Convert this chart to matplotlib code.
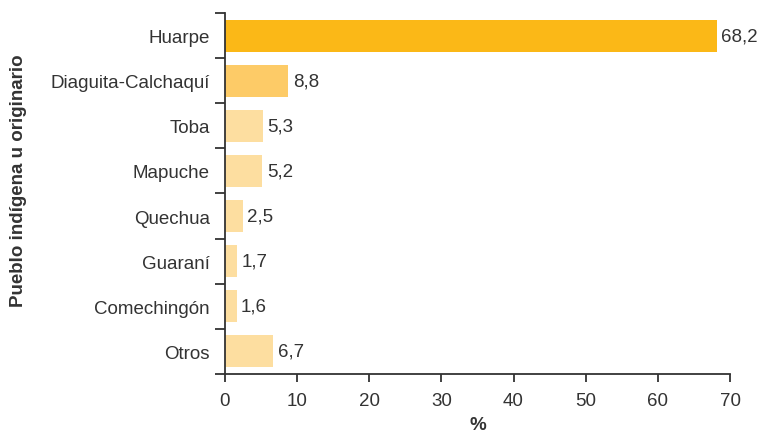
import matplotlib.pyplot as plt
import numpy as np

plt.rcParams['font.family'] = ['Liberation Sans', 'DejaVu Sans']

pueblos = ['Huarpe', 'Diaguita-Calchaquí', 'Toba', 'Mapuche', 'Quechua',
           'Guaraní', 'Comechingón', 'Otros']
valores = [68.2, 8.8, 5.3, 5.2, 2.5, 1.7, 1.6, 6.7]
colores = ['#fbb817', '#fdcb67'] + ['#fddea0'] * 6
xticks = [0, 10, 20, 30, 40, 50, 60, 70]

txt = '#333333'
fs = 13.5

fig = plt.figure(figsize=(7.59, 4.35), dpi=100)
ax = fig.add_axes([0.2964, 0.138, 0.6654, 0.8298])

y = np.arange(len(pueblos))
ax.barh(y, valores, height=0.71, color=colores)
for yi, v in zip(y, valores):
    ax.text(v + 0.6, yi, f'{v:.1f}'.replace('.', ','), va='center', ha='left',
            fontsize=fs, color=txt)

ax.set_xlim(0, 70)
ax.set_ylim(len(pueblos) - 0.5, -0.5)
ax.set_xticks(xticks)
ax.set_xticklabels([str(t) for t in xticks], fontsize=fs, color=txt)
ax.set_yticks(y)
ax.set_yticklabels(pueblos, fontsize=fs, color=txt)
ax.set_yticks(np.arange(-0.5, len(pueblos)), minor=True)
ax.tick_params(axis='y', which='major', length=0, pad=11)
ax.tick_params(axis='y', which='minor', length=7, width=1.3, color=txt)
ax.tick_params(axis='x', length=6, width=1.3, color=txt, pad=7)

for s in ['top', 'right']:
    ax.spines[s].set_visible(False)
for s in ['left', 'bottom']:
    ax.spines[s].set_color(txt)
    ax.spines[s].set_linewidth(1.3)

ax.set_xlabel('%', fontsize=fs, fontweight='bold', color=txt, labelpad=5)
ax.set_ylabel('Pueblo indígena u originario', fontsize=fs, fontweight='bold',
              color=txt)
ax.yaxis.set_label_coords(-0.392, 0.537)

fig.savefig('out.png', dpi=100)
plt.close(fig)
